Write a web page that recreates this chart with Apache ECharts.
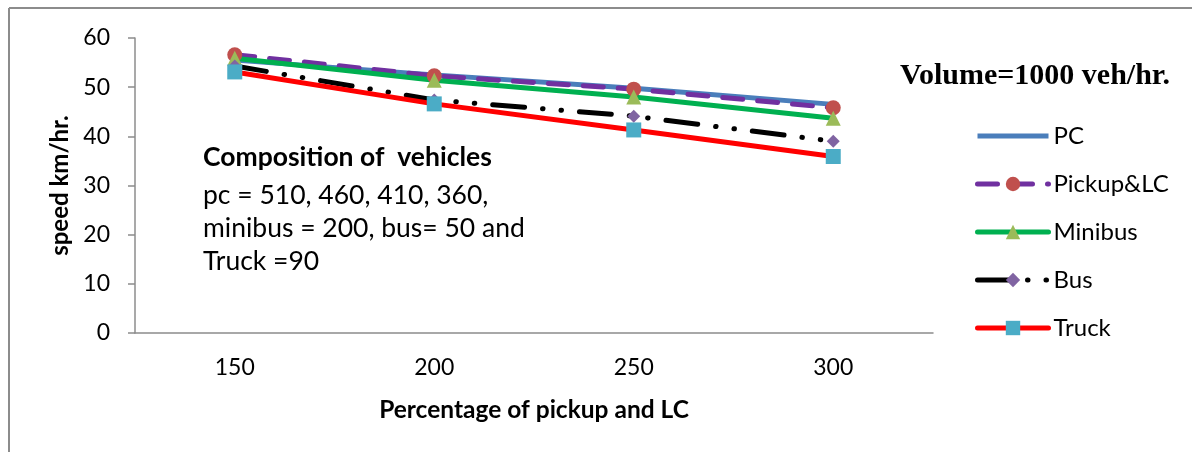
<!DOCTYPE html>
<html>
<head>
<meta charset="utf-8">
<script src="https://cdn.jsdelivr.net/npm/echarts@6/dist/echarts.min.js"></script>
<style>
  html, body { margin: 0; padding: 0; background: #fff; }
  #chart { width: 1192px; height: 452px; }
</style>
</head>
<body>
<div id="chart"></div>
<script>
// Percentage of pickup and LC (x categories)
const categories = ['150', '200', '250', '300'];

// Average speed (km/hr) for each vehicle class
const pcSpeed      = [55.5, 52.5, 49.8, 46.5];
const pickupSpeed  = [56.6, 52.3, 49.6, 45.8];
const minibusSpeed = [55.9, 51.4, 48.0, 43.7];
const busSpeed     = [54.3, 47.4, 44.1, 39.0];
const truckSpeed   = [53.1, 46.6, 41.3, 35.9];

const seriesNames = ['PC', 'Pickup&LC', 'Minibus', 'Bus', 'Truck'];

const FONT = 'Lato, "Open Sans", sans-serif';

const chart = echarts.init(document.getElementById('chart'), null, { renderer: 'canvas' });

function lineSeries(name, data, lineColor, lineExtra, symbol, symbolSize, symbolColor) {
  return {
    name: name,
    type: 'line',
    data: data,
    symbol: symbol,
    symbolSize: symbolSize,
    showSymbol: symbol !== 'none',
    lineStyle: Object.assign({ color: lineColor, width: 5, cap: 'round' }, lineExtra || {}),
    itemStyle: { color: symbolColor || lineColor, borderWidth: 0 },
    emphasis: { disabled: true },
    animation: false,
    z: 2
  };
}

const option = {
  backgroundColor: '#fff',
  animation: false,
  grid: { left: 135, right: 259, top: 38, bottom: 119, containLabel: false },
  title: {
    text: 'Volume=1000 veh/hr.',
    left: 895,
    top: 56,
    textStyle: {
      fontFamily: '"Liberation Serif", "DejaVu Serif", serif',
      fontWeight: 'bold',
      fontSize: 30,
      color: '#000'
    }
  },
  legend: {
    orient: 'vertical',
    left: 970,
    top: 119,
    padding: 5,
    itemWidth: 71,
    itemHeight: 18,
    itemGap: 24,
    selectedMode: false,
    lineStyle: { width: 5, cap: 'round' },
    data: [
      { name: 'PC', icon: 'path://M0,0H142V10H0Z' },
      seriesNames[1],
      seriesNames[2],
      seriesNames[3],
      seriesNames[4]
    ],
    textStyle: { fontFamily: FONT, fontSize: 24, lineHeight: 24, color: '#000', padding: 0 }
  },
  xAxis: {
    type: 'category',
    data: categories,
    boundaryGap: true,
    name: 'Percentage of pickup and LC',
    nameLocation: 'middle',
    nameGap: 65,
    nameTextStyle: { fontFamily: FONT, fontWeight: 'bold', fontSize: 24.5, color: '#000' },
    axisLine: { lineStyle: { color: '#8c8c8c', width: 1.5 } },
    axisTick: { show: false },
    axisLabel: { fontFamily: FONT, fontSize: 23, color: '#000', margin: 23 },
    splitLine: { show: false }
  },
  yAxis: {
    type: 'value',
    min: 0,
    max: 60,
    interval: 10,
    name: 'speed km/hr.',
    nameLocation: 'middle',
    nameGap: 61,
    nameRotate: 90,
    nameTextStyle: { fontFamily: FONT, fontWeight: 'bold', fontSize: 24, color: '#000' },
    axisLine: { show: true, lineStyle: { color: '#8c8c8c', width: 1.5 } },
    axisTick: { show: true, inside: false, length: 7, lineStyle: { color: '#8c8c8c', width: 1.5 } },
    axisLabel: { fontFamily: FONT, fontSize: 23, color: '#000', margin: 25 },
    splitLine: { show: false }
  },
  series: [
    lineSeries('PC', pcSpeed, '#4a7ebb', null, 'none', 0),
    lineSeries('Pickup&LC', pickupSpeed, '#7030a0', { type: [20, 15] }, 'circle', 15, '#c0504d'),
    lineSeries('Minibus', minibusSpeed, '#00b050', null, 'triangle', 15, '#9bbb59'),
    lineSeries('Bus', busSpeed, '#000000', { type: [32, 18, 0.5, 18, 0.5, 18] }, 'diamond', 13, '#8064a2'),
    lineSeries('Truck', truckSpeed, '#ff0000', null, 'rect', 15, '#4bacc6')
  ],
  graphic: [
    // frame lines along the top and left of the chart area
    { type: 'line', silent: true, shape: { x1: 9, y1: 8, x2: 1192, y2: 8 }, style: { stroke: '#8c8c8c', lineWidth: 2 } },
    { type: 'line', silent: true, shape: { x1: 9, y1: 8, x2: 9, y2: 452 }, style: { stroke: '#8c8c8c', lineWidth: 2 } },
    // composition note
    {
      type: 'text', left: 203, top: 144, silent: true,
      style: { text: 'Composition of  vehicles', fontFamily: FONT, fontWeight: 'bold', fontSize: 26.5, fill: '#000' }
    },
    {
      type: 'text', left: 203, top: 179, silent: true,
      style: {
        text: 'pc = 510, 460, 410, 360,\nminibus = 200, bus= 50 and\nTruck =90',
        fontFamily: FONT, fontSize: 26.5, lineHeight: 33, fill: '#000'
      }
    }
  ]
};

chart.setOption(option);
</script>
</body>
</html>
